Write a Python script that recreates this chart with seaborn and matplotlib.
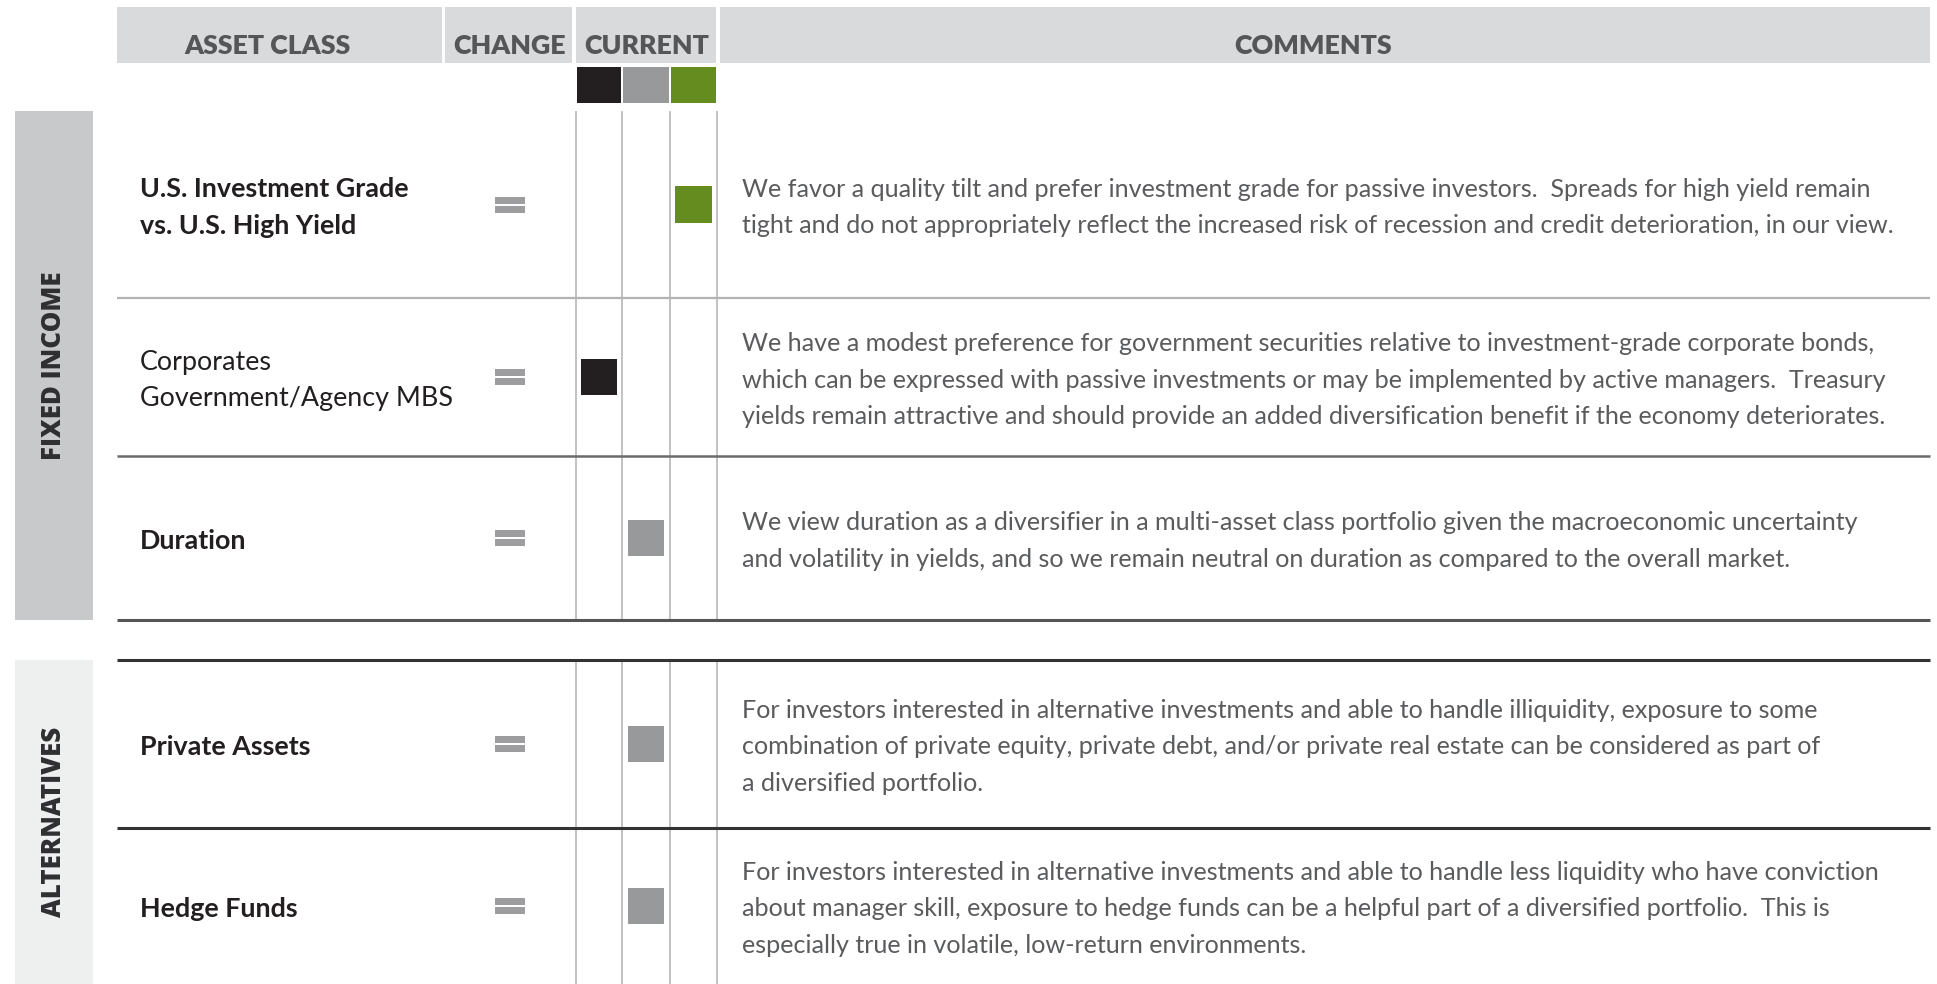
import matplotlib

matplotlib.use("Agg")
import matplotlib.pyplot as plt
import pandas as pd
import seaborn as sns
from matplotlib.patches import Rectangle

# --- data ---
GROUPS = ["FIXED INCOME", "ALTERNATIVES"]
ASSET_NAMES = [
    "U.S. Investment Grade\nvs. U.S. High Yield",
    "Corporates\nGovernment/Agency MBS",
    "Duration",
    "Private Assets",
    "Hedge Funds",
]
NAME_BOLD = [True, False, True, True, True]
CHANGE = ["=", "=", "=", "=", "="]
CURRENT_LEVELS = ["Underweight", "Neutral", "Overweight"]
CURRENT = [2, 0, 1, 1, 1]
COMMENTS = [
    "We favor a quality tilt and prefer investment grade for passive investors.  Spreads for high yield remain\n"
    "tight and do not appropriately reflect the increased risk of recession and credit deterioration, in our view.",
    "We have a modest preference for government securities relative to investment-grade corporate bonds,\n"
    "which can be expressed with passive investments or may be implemented by active managers.  Treasury\n"
    "yields remain attractive and should provide an added diversification benefit if the economy deteriorates.",
    "We view duration as a diversifier in a multi-asset class portfolio given the macroeconomic uncertainty\n"
    "and volatility in yields, and so we remain neutral on duration as compared to the overall market.",
    "For investors interested in alternative investments and able to handle illiquidity, exposure to some\n"
    "combination of private equity, private debt, and/or private real estate can be considered as part of\n"
    "a diversified portfolio.",
    "For investors interested in alternative investments and able to handle less liquidity who have conviction\n"
    "about manager skill, exposure to hedge funds can be a helpful part of a diversified portfolio.  This is\n"
    "especially true in volatile, low-return environments.",
]
HEADERS = ["ASSET CLASS", "CHANGE", "CURRENT", "COMMENTS"]

# --- style ---
LEVEL_COLORS = {"Underweight": "#231f20", "Neutral": "#98999b", "Overweight": "#648c1e"}
HEADER_BG = "#d9dadc"
HEADER_TXT = "#555658"
NAME_TXT = "#231f20"
COMMENT_TXT = "#5a5b5d"

sns.set_style("white")
plt.rcParams["font.family"] = ["Lato", "DejaVu Sans"]

# --- layout (pixel coordinates) ---
W, H = 1937, 984
HEADER_TOP, HEADER_BOT = 7, 63
HEADER_CELLS = [(117, 442), (445, 572), (576, 716), (720, 1930)]
HEADER_TEXT_X = [267, 510, 647, 1313]
HEADER_TEXT_W = [177, 109, 124, 154]
CUR_EDGES = [576, 622, 670, 717]
ROW_BOUNDS = [(111, 298), (298, 456), (456, 620), (660, 828), (828, 984)]
GROUP_SPANS = [(111, 620), (660, 984)]
GROUP_BG = ["#c8c9cb", "#eeefef"]
SEP_LINES = [(298, "#b3b3b3", 1.6), (456, "#6b6b6b", 1.8), (620, "#555555", 2.2),
             (660, "#333333", 2.2), (828, "#333333", 2.2)]
LINE_STEP = 36.5

fig = plt.figure(figsize=(W / 100, H / 100), dpi=100)
ax = fig.add_axes([0, 0, 1, 1])
ax.set_xlim(0, W)
ax.set_ylim(H, 0)
ax.axis("off")
renderer = fig.canvas.get_renderer()


def fit_size(text, target_px, **kw):
    """Font size (pt) that makes `text` about target_px wide."""
    t = ax.text(0, 0, text, fontsize=20, **kw)
    w = t.get_window_extent(renderer).width
    t.remove()
    return 20 * target_px / w


def multiline(x, yc, text, **kw):
    lines = text.split("\n")
    n = len(lines)
    for i, line in enumerate(lines):
        ax.text(x, yc + (i - (n - 1) / 2) * LINE_STEP, line, ha="left",
                va="center_baseline", **kw)


hdr_fits = [fit_size(t, w, fontweight=800) for t, w in zip(HEADERS, HEADER_TEXT_W)]
HDR_FS = sum(hdr_fits) / len(hdr_fits)
NAME_FS = fit_size("U.S. Investment Grade", 269, fontweight="bold")
COMMENT_FS = fit_size(COMMENTS[0].split("\n")[1], 1156, fontweight="normal")
SIDE_FS = fit_size("FIXED INCOME", 188, fontweight=800, family="Open Sans")

# header bar
for (x0, x1), label, tx in zip(HEADER_CELLS, HEADERS, HEADER_TEXT_X):
    ax.add_patch(Rectangle((x0, HEADER_TOP), x1 - x0, HEADER_BOT - HEADER_TOP,
                           facecolor=HEADER_BG, edgecolor="none"))
    ax.text(tx, 44, label, ha="center", va="center_baseline", fontsize=HDR_FS,
            fontweight=800, color=HEADER_TXT)

# legend squares under CURRENT
for i, lvl in enumerate(CURRENT_LEVELS):
    x0, x1 = CUR_EDGES[i], CUR_EDGES[i + 1]
    ax.add_patch(Rectangle((x0 + 1, 67), x1 - x0 - 2, 36,
                           facecolor=LEVEL_COLORS[lvl], edgecolor="none"))

# group side bars
for (y0, y1), bg, label in zip(GROUP_SPANS, GROUP_BG, GROUPS):
    ax.add_patch(Rectangle((15, y0), 78, y1 - y0, facecolor=bg, edgecolor="none"))
    ax.text(54, (y0 + y1) / 2, label, rotation=90, ha="center", va="center",
            fontsize=SIDE_FS, fontweight=800, family="Open Sans", color="#2f2f31")

# vertical grid lines in CURRENT column
for y0, y1 in GROUP_SPANS:
    ax.vlines(CUR_EDGES, y0, y1, color="#bdbdbd", lw=1.3)

# row separators
for y, c, lw in SEP_LINES:
    ax.hlines(y, 117, 1930, color=c, lw=lw)

# rows
centers = [(a + b) / 2 for a, b in ROW_BOUNDS]
for yc, name, bold, chg, comment in zip(centers, ASSET_NAMES, NAME_BOLD, CHANGE, COMMENTS):
    multiline(140, yc + 1, name, fontsize=NAME_FS,
              fontweight="bold" if bold else "normal", color=NAME_TXT)
    if chg == "=":
        for dy in (-8, 1):
            ax.add_patch(Rectangle((495, yc + dy), 30, 7, facecolor="#9d9d9f",
                                   edgecolor="none"))
    multiline(742, yc + 1, comment, fontsize=COMMENT_FS, fontweight="normal",
              color=COMMENT_TXT)

# current-position squares
df = pd.DataFrame({
    "row_y": centers,
    "current": [CURRENT_LEVELS[c] for c in CURRENT],
    "cur_x": [(CUR_EDGES[c] + CUR_EDGES[c + 1]) / 2 for c in CURRENT],
})
sns.scatterplot(data=df, x="cur_x", y="row_y", hue="current", palette=LEVEL_COLORS,
                marker="s", s=700, linewidth=0, legend=False, ax=ax)
ax.set_xlim(0, W)
ax.set_ylim(H, 0)
ax.axis("off")

fig.savefig("out.png", dpi=100, facecolor="white")
